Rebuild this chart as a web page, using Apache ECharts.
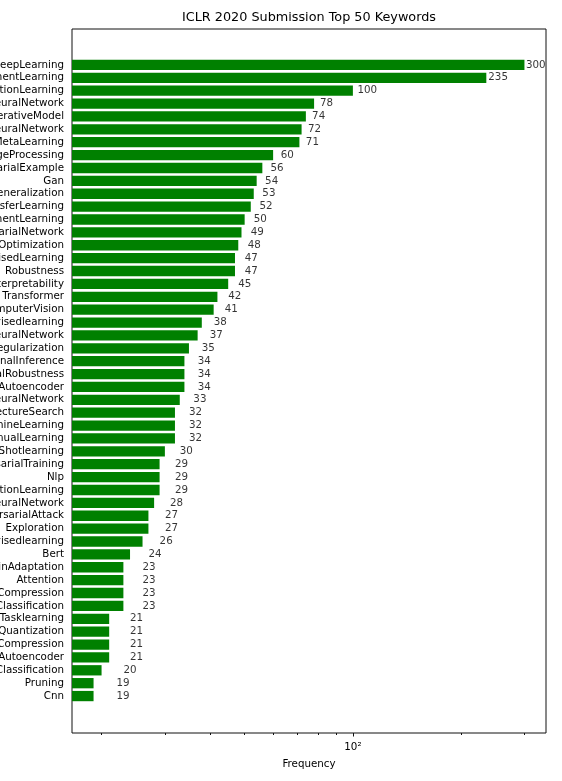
<!DOCTYPE html>
<html>
<head>
<meta charset="utf-8">
<script src="https://cdn.jsdelivr.net/npm/echarts@6/dist/echarts.min.js"></script>
<style>
  html, body { margin: 0; padding: 0; background: #fff; }
  #chart { width: 562px; height: 781px; }
</style>
</head>
<body>
<div id="chart"></div>
<script>
// keywords, top to bottom (left part of the long names is cut off by the canvas edge)
const keywords = [
  'DeepLearning', 'ReinforcementLearning', 'RepresentationLearning', 'GraphNeuralNetwork',
  'GenerativeModel', 'NeuralNetwork', 'MetaLearning', 'NaturalLanguageProcessing',
  'AdversarialExample', 'Gan', 'Generalization', 'TransferLearning',
  'DeepReinforcementLearning', 'GenerativeAdversarialNetwork', 'Optimization', 'UnsupervisedLearning',
  'Robustness', 'Interpretability', 'Transformer', 'ComputerVision',
  'Selfsupervisedlearning', 'ConvolutionalNeuralNetwork', 'Regularization', 'VariationalInference',
  'AdversarialRobustness', 'VariationalAutoencoder', 'RecurrentNeuralNetwork', 'NeuralArchitectureSearch',
  'MachineLearning', 'ContinualLearning', 'FewShotlearning', 'AdversarialTraining',
  'Nlp', 'ImitationLearning', 'DeepNeuralNetwork', 'AdversarialAttack',
  'Exploration', 'Semisupervisedlearning', 'Bert', 'DomainAdaptation',
  'Attention', 'ModelCompression', 'ImageClassification', 'MultiTasklearning',
  'Quantization', 'NetworkCompression', 'Autoencoder', 'Classification',
  'Pruning', 'Cnn'
];
const counts = [
  300, 235, 100, 78, 74, 72, 71, 60, 56, 54, 53, 52, 50, 49, 48, 47, 47, 45, 42, 41,
  38, 37, 35, 34, 34, 34, 33, 32, 32, 32, 30, 29, 29, 29, 28, 27, 27, 26, 24, 23,
  23, 23, 23, 21, 21, 21, 21, 20, 19, 19
];
const majorTicks = [100];
const minorTicks = [20, 30, 40, 50, 60, 70, 80, 90, 200, 300];

const X_MIN = 16.55;
const X_MAX = 344.4;
const LABEL_PAD = 3;   // value labels sit at count + 3 on the log axis
const FONT = 'DejaVu Sans';
const FS = 10.3;

const chart = echarts.init(document.getElementById('chart'), null, { renderer: 'canvas' });

const option = {
  animation: false,
  backgroundColor: '#fff',
  title: {
    text: 'ICLR 2020 Submission Top 50 Keywords',
    left: 309,
    top: 11.5,
    textAlign: 'center',
    padding: 0,
    textStyle: { fontFamily: FONT, fontSize: 12.8, fontWeight: 'normal', color: '#000' }
  },
  grid: [
    // frame
    {
      left: 72, top: 29, width: 474, height: 704,
      outerBoundsMode: 'none', containLabel: false,
      show: true, borderColor: '#111', borderWidth: 1, backgroundColor: 'transparent'
    },
    // bars
    { left: 72, top: 58.5, width: 474, height: 644, outerBoundsMode: 'none', containLabel: false }
  ],
  xAxis: [
    {
      gridIndex: 0, type: 'log', min: X_MIN, max: X_MAX, position: 'bottom',
      axisLine: { show: false },
      axisTick: { customValues: majorTicks, length: 3.5, lineStyle: { color: '#111' } },
      axisLabel: {
        customValues: majorTicks, margin: 9.5,
        formatter: () => '10²',
        fontFamily: FONT, fontSize: FS, color: '#000'
      },
      splitLine: { show: false },
      name: 'Frequency', nameLocation: 'middle', nameGap: 26,
      nameTextStyle: { fontFamily: FONT, fontSize: FS, color: '#000' }
    },
    {
      gridIndex: 0, type: 'log', min: X_MIN, max: X_MAX, position: 'bottom',
      axisLine: { show: false },
      axisTick: { customValues: minorTicks, length: 2, lineStyle: { color: '#111' } },
      axisLabel: { show: false },
      splitLine: { show: false }
    },
    { gridIndex: 1, type: 'log', min: X_MIN, max: X_MAX, show: false }
  ],
  yAxis: [
    { gridIndex: 0, type: 'value', show: false },
    {
      gridIndex: 1, type: 'category', data: keywords, inverse: true,
      axisLine: { show: false },
      axisTick: { alignWithLabel: true, length: 3.5, lineStyle: { color: '#111' } },
      axisLabel: { interval: 0, margin: 8, fontFamily: FONT, fontSize: FS, color: '#000' },
      splitLine: { show: false }
    }
  ],
  series: [
    {
      type: 'bar',
      xAxisIndex: 2, yAxisIndex: 1,
      data: counts,
      barWidth: '80%',
      itemStyle: { color: '#008000' }
    },
    {
      type: 'scatter',
      xAxisIndex: 2, yAxisIndex: 1,
      symbolSize: 0,
      data: counts.map((c, i) => [c + LABEL_PAD, i]),
      label: {
        show: true, position: 'right', distance: 0,
        align: 'left', verticalAlign: 'middle',
        formatter: p => String(counts[p.dataIndex]),
        fontFamily: FONT, fontSize: FS, color: '#000'
      },
      silent: true
    }
  ]
};

chart.setOption(option);
</script>
</body>
</html>
